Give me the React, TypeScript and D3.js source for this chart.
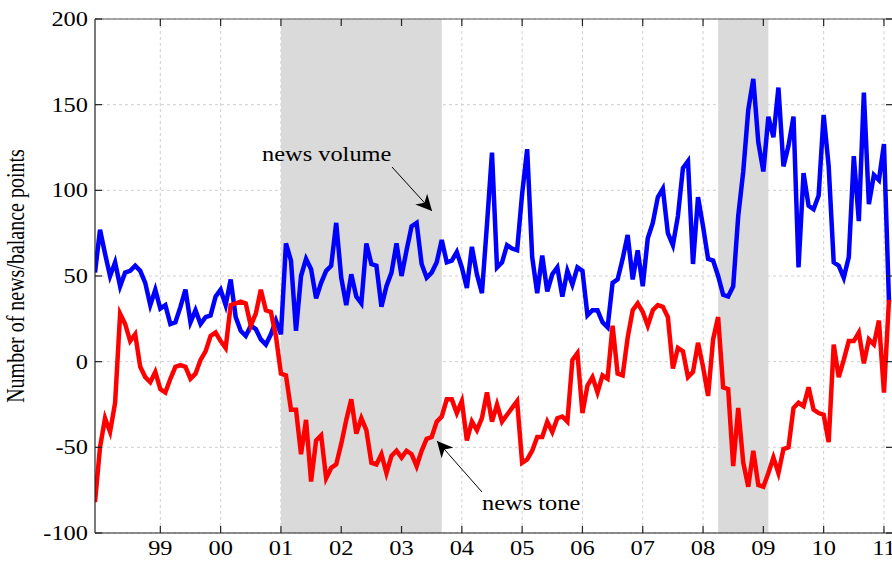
import React, { useEffect, useRef } from "react";
import * as d3 from "d3";

// monthly series, first observation Dec 1997
const startYear = 1997;
const startMonth = 11; // 0-based, December

const newsVolume = [
  52, 77, 63, 50, 58, 44, 52, 53, 56, 53, 46, 33, 42, 31, 33, 22, 23, 32, 42, 23,
  30, 22, 26, 27, 38, 42, 33, 48, 26, 18, 15, 21, 19, 13, 10, 16, 24, 16, 69, 59,
  18, 50, 60, 54, 37, 46, 53, 56, 81, 49, 33, 51, 38, 34, 69, 57, 56, 32, 44, 52,
  69, 50, 65, 79, 81, 57, 49, 52, 58, 71, 58, 59, 64, 55, 43, 67, 51, 40, 80, 122,
  55, 58, 68, 66, 65, 98, 124, 61, 40, 62, 41, 51, 55, 38, 53, 45, 55, 53, 27, 30,
  30, 23, 20, 46, 48, 60, 74, 48, 65, 44, 72, 81, 96, 101, 75, 68, 85, 113, 117, 57,
  96, 79, 60, 59, 50, 39, 38, 44, 85, 111, 147, 165, 128, 111, 143, 131, 160, 114, 126, 143,
  55, 110, 91, 89, 97, 144, 114, 58, 56, 49, 61, 120, 82, 157, 92, 109, 106, 127, 35,
];

const newsTone = [
  -82, -50, -33, -41, -24, 28, 22, 12, 16, -3, -9, -12, -6, -16, -18, -10, -3, -2, -3, -10,
  -7, 1, 6, 15, 17, 12, 8, 33, 34, 35, 34, 21, 28, 42, 30, 29, 15, -7, -8, -28,
  -28, -54, -34, -70, -46, -43, -68, -62, -60, -48, -34, -22, -42, -33, -40, -59, -60, -54, -65, -55,
  -52, -56, -52, -54, -61, -52, -45, -44, -35, -32, -22, -22, -30, -23, -46, -35, -40, -33, -18, -35,
  -25, -35, -31, -27, -23, -59, -57, -52, -44, -44, -35, -41, -33, -32, -35, 1, 5, -30, -14, -9,
  -18, -8, -10, 21, -7, -8, 14, 30, 34, 29, 21, 30, 33, 32, 26, -4, 8, 6, -9, -6,
  11, -3, -20, 13, 26, -15, -16, -61, -27, -59, -73, -52, -72, -73, -65, -56, -65, -51, -50, -27,
  -24, -26, -15, -28, -30, -31, -47, 10, -9, 1, 12, 12, 17, -1, 13, 10, 24, -18, 36,
];

// shaded periods [start, end] as year + month/12
const recessions = [
  [2001 + 0 / 12, 2003 + 8 / 12],
  [2008 + 3 / 12, 2009 + 1 / 12],
];

const yearTicks = [1999, 2000, 2001, 2002, 2003, 2004, 2005, 2006, 2007, 2008, 2009, 2010, 2011];
const valueTicks = [-100, -50, 0, 50, 100, 150, 200];

const annotations = [
  { label: "news volume", tx: 262, ty: 161, from: [392, 167], to: [432, 211] },
  { label: "news tone", tx: 482, ty: 510, from: [482, 492], to: [437, 441] },
];

const W = 892;
const H = 561;
const FONT = "'Liberation Serif', 'Times New Roman', serif";
const STRETCH = 1.22;

export default function App() {
  const ref = useRef<SVGSVGElement>(null);

  useEffect(() => {
    const svg = d3.select(ref.current);
    svg.selectAll("*").remove();

    const margin = { top: 19, right: -1, bottom: 28, left: 95 };
    const x0 = startYear + startMonth / 12;
    const x = d3
      .scaleLinear()
      .domain([x0, x0 + 158.8 / 12])
      .range([margin.left, W - margin.right]);
    const y = d3.scaleLinear().domain([-100, 200]).range([H - margin.bottom, margin.top]);
    const t = (i: number) => x0 + i / 12;

    const [xl, xr] = x.range();
    const [yb, yt] = y.range();

    svg
      .append("defs")
      .append("clipPath")
      .attr("id", "plot-clip")
      .append("rect")
      .attr("x", xl)
      .attr("y", yt)
      .attr("width", xr - xl)
      .attr("height", yb - yt);

    // grid
    const grid = svg.append("g").attr("stroke", "#cfcfcf").attr("stroke-dasharray", "3,3").attr("stroke-width", 1);
    yearTicks.forEach((yr) => {
      grid.append("line").attr("x1", x(yr)).attr("x2", x(yr)).attr("y1", yt).attr("y2", yb);
    });
    valueTicks.forEach((v) => {
      grid.append("line").attr("x1", xl).attr("x2", xr).attr("y1", y(v)).attr("y2", y(v));
    });

    // shaded periods
    svg
      .append("g")
      .selectAll("rect")
      .data(recessions)
      .join("rect")
      .attr("x", (d) => x(d[0]))
      .attr("y", yt)
      .attr("width", (d) => x(d[1]) - x(d[0]))
      .attr("height", yb - yt)
      .attr("fill", "#dadada");

    const line = d3
      .line<number>()
      .x((_, i) => x(t(i)))
      .y((d) => y(d));

    const lines = svg.append("g").attr("clip-path", "url(#plot-clip)");
    lines
      .append("path")
      .attr("d", line(newsVolume))
      .attr("fill", "none")
      .attr("stroke", "#0000ff")
      .attr("stroke-width", 4.5);
    lines
      .append("path")
      .attr("d", line(newsTone))
      .attr("fill", "none")
      .attr("stroke", "#ff0000")
      .attr("stroke-width", 4.5);

    // frame and ticks
    const frame = svg.append("g").attr("stroke", "#222").attr("stroke-width", 1.2);
    frame.append("line").attr("x1", xl).attr("x2", xl).attr("y1", yt).attr("y2", yb);
    frame.append("line").attr("x1", xl).attr("x2", xr).attr("y1", yb).attr("y2", yb);
    frame.append("line").attr("x1", xl).attr("x2", xr).attr("y1", yt).attr("y2", yt).attr("stroke", "#555");
    frame.append("line").attr("x1", xr).attr("x2", xr).attr("y1", yt).attr("y2", yb);
    yearTicks.forEach((yr) => {
      frame.append("line").attr("x1", x(yr)).attr("x2", x(yr)).attr("y1", yb).attr("y2", yb - 7);
      frame.append("line").attr("x1", x(yr)).attr("x2", x(yr)).attr("y1", yt).attr("y2", yt + 7);
    });
    valueTicks.forEach((v) => {
      frame.append("line").attr("x1", xl).attr("x2", xl + 7).attr("y1", y(v)).attr("y2", y(v));
      frame.append("line").attr("x1", xr).attr("x2", xr - 7).attr("y1", y(v)).attr("y2", y(v));
    });

    const stretched = (g: any, px: number, py: number) =>
      g.append("text").attr("transform", `translate(${px},${py}) scale(${STRETCH},1)`);

    valueTicks.forEach((v) => {
      stretched(svg, xl - 7, y(v) + 7)
        .attr("text-anchor", "end")
        .attr("font-family", FONT)
        .attr("font-size", 20)
        .attr("fill", "#000")
        .text(String(v));
    });
    yearTicks.forEach((yr) => {
      stretched(svg, x(yr), yb + 22)
        .attr("text-anchor", "middle")
        .attr("font-family", FONT)
        .attr("font-size", 20)
        .attr("fill", "#000")
        .text(String(yr).slice(2));
    });

    svg
      .append("text")
      .attr("transform", `translate(24,${(yt + yb) / 2}) scale(${STRETCH},1) rotate(-90)`)
      .attr("text-anchor", "middle")
      .attr("font-family", FONT)
      .attr("font-size", 20)
      .attr("fill", "#000")
      .text("Number of news/balance points");

    // annotations with arrows
    svg
      .append("defs")
      .append("marker")
      .attr("id", "arrow")
      .attr("viewBox", "0 0 10 10")
      .attr("refX", 10)
      .attr("refY", 5)
      .attr("markerWidth", 16)
      .attr("markerHeight", 16)
      .attr("markerUnits", "userSpaceOnUse")
      .attr("orient", "auto")
      .append("path")
      .attr("d", "M0,0 L10,5 L0,10 L3,5 Z")
      .attr("fill", "#000");

    annotations.forEach((a) => {
      stretched(svg, a.tx, a.ty)
        .attr("font-family", FONT)
        .attr("font-size", 20)
        .attr("fill", "#000")
        .text(a.label);
      svg
        .append("line")
        .attr("x1", a.from[0])
        .attr("y1", a.from[1])
        .attr("x2", a.to[0])
        .attr("y2", a.to[1])
        .attr("stroke", "#000")
        .attr("stroke-width", 1)
        .attr("marker-end", "url(#arrow)");
    });
  }, []);

  return (
    <svg
      ref={ref}
      width={W}
      height={H}
      style={{ position: "absolute", left: 0, top: 0, background: "#fff" }}
    />
  );
}
